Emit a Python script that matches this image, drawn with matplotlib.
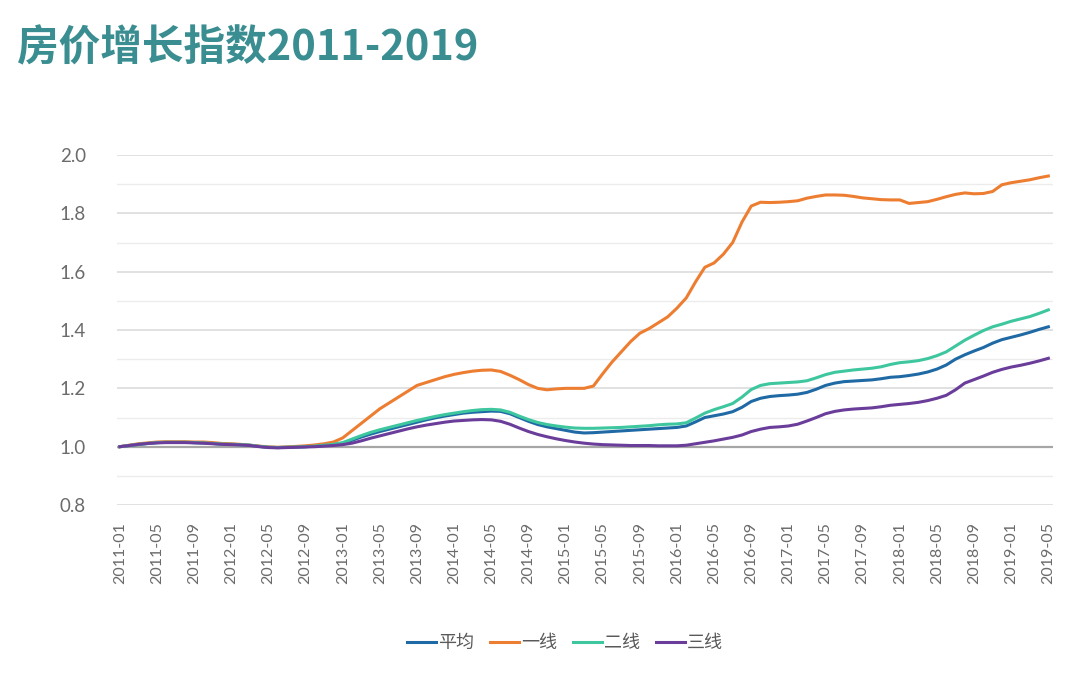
import matplotlib
matplotlib.use("Agg")
import matplotlib.pyplot as plt
from matplotlib.ticker import MultipleLocator

plt.rcParams['font.family'] = ['Noto Sans CJK SC', 'DejaVu Sans']

# ---- data (monthly, 2011-01 .. 2019-05) ----
months = [f"{y}-{m:02d}" for y in range(2011, 2020) for m in range(1, 13)][:101]

avg = [
    1.000, 1.004, 1.008, 1.011, 1.014, 1.015, 1.015, 1.015, 1.014, 1.013, 1.011, 1.009,
    1.008, 1.007, 1.005, 1.001, 0.998, 0.997, 0.998, 0.999, 1.000, 1.002, 1.004, 1.007,
    1.012, 1.022, 1.033, 1.043, 1.052, 1.060, 1.068, 1.076, 1.084, 1.092, 1.099, 1.105,
    1.110, 1.115, 1.118, 1.120, 1.122, 1.121, 1.113, 1.100, 1.087, 1.076, 1.068, 1.062,
    1.056, 1.050, 1.047, 1.048, 1.050, 1.052, 1.054, 1.056, 1.058, 1.060, 1.062, 1.064,
    1.066, 1.071, 1.085, 1.100, 1.106, 1.112, 1.120, 1.135, 1.155, 1.166, 1.172, 1.175,
    1.177, 1.180, 1.186, 1.197, 1.210, 1.218, 1.223, 1.225, 1.227, 1.229, 1.233, 1.238,
    1.240, 1.244, 1.249, 1.256, 1.266, 1.280, 1.300, 1.315, 1.328, 1.340, 1.355, 1.367,
    1.375, 1.383, 1.392, 1.402, 1.411,
]

tier1 = [
    1.000, 1.005, 1.010, 1.013, 1.016, 1.017, 1.017, 1.017, 1.016, 1.016, 1.014, 1.011,
    1.010, 1.008, 1.005, 1.002, 0.999, 0.998, 0.999, 1.001, 1.003, 1.006, 1.010, 1.016,
    1.030, 1.055, 1.080, 1.105, 1.130, 1.150, 1.170, 1.190, 1.210, 1.220, 1.230, 1.240,
    1.248, 1.254, 1.259, 1.262, 1.263, 1.258, 1.245, 1.230, 1.213, 1.200, 1.195, 1.198,
    1.200, 1.200, 1.200, 1.208, 1.250, 1.290, 1.325, 1.360, 1.389, 1.405, 1.425, 1.445,
    1.475, 1.510, 1.565, 1.615, 1.630, 1.660, 1.700, 1.770, 1.825, 1.838, 1.837, 1.838,
    1.840, 1.843, 1.852, 1.858, 1.863, 1.863, 1.862, 1.858, 1.853, 1.850, 1.847, 1.846,
    1.846, 1.834, 1.837, 1.840, 1.848, 1.857, 1.865, 1.870, 1.867, 1.868, 1.875, 1.898,
    1.905, 1.910, 1.915, 1.922, 1.928,
]

tier2 = [
    1.000, 1.004, 1.008, 1.011, 1.014, 1.015, 1.015, 1.015, 1.014, 1.013, 1.011, 1.009,
    1.008, 1.007, 1.005, 1.001, 0.998, 0.997, 0.998, 0.999, 1.000, 1.002, 1.005, 1.008,
    1.014, 1.026, 1.038, 1.049, 1.058, 1.066, 1.074, 1.082, 1.090, 1.097, 1.104, 1.110,
    1.115, 1.120, 1.124, 1.127, 1.128, 1.126, 1.118, 1.105, 1.093, 1.083, 1.076, 1.071,
    1.067, 1.064, 1.063, 1.063, 1.064, 1.065, 1.066, 1.068, 1.070, 1.072, 1.075, 1.077,
    1.078, 1.082, 1.098, 1.115, 1.127, 1.137, 1.148, 1.170, 1.196, 1.210, 1.216, 1.218,
    1.220, 1.222, 1.226, 1.236, 1.247, 1.255, 1.259, 1.263, 1.266, 1.269, 1.274, 1.282,
    1.288, 1.291, 1.295, 1.302, 1.312, 1.325, 1.345, 1.365, 1.382, 1.398, 1.411, 1.420,
    1.430, 1.438, 1.446, 1.457, 1.469,
]

tier3 = [
    1.000, 1.004, 1.008, 1.011, 1.013, 1.014, 1.014, 1.014, 1.013, 1.012, 1.010, 1.008,
    1.007, 1.006, 1.004, 1.000, 0.997, 0.996, 0.997, 0.998, 0.999, 1.000, 1.002, 1.004,
    1.007, 1.012, 1.020, 1.029, 1.037, 1.045, 1.053, 1.061, 1.068, 1.074, 1.079, 1.084,
    1.088, 1.090, 1.092, 1.093, 1.092, 1.087, 1.077, 1.064, 1.052, 1.042, 1.034, 1.027,
    1.021, 1.016, 1.012, 1.009, 1.007, 1.006, 1.005, 1.004, 1.004, 1.004, 1.003, 1.003,
    1.003, 1.005, 1.010, 1.015, 1.020, 1.026, 1.032, 1.040, 1.052, 1.060, 1.066, 1.068,
    1.071, 1.077, 1.088, 1.100, 1.113, 1.121, 1.126, 1.129, 1.131, 1.133, 1.137, 1.142,
    1.145, 1.148, 1.152, 1.158, 1.166, 1.176, 1.195, 1.218, 1.230, 1.242, 1.255, 1.265,
    1.273, 1.279, 1.286, 1.294, 1.303,
]

series_names = ["平均", "一线", "二线", "三线"]
series_colors = ["#1f6aa5", "#ed7d31", "#3ec79f", "#6a3d9a"]

# ---- plot ----
fig = plt.figure(figsize=(10.8, 6.96), dpi=100)
ax = fig.add_axes([0.108, 0.2744, 0.867, 0.5029])

x = list(range(len(months)))
ax.axhline(1.0, color="#a6a6a6", lw=1.6, zorder=1)
for vals, name, c in zip([avg, tier1, tier2, tier3], series_names, series_colors):
    ax.plot(x, vals, color=c, lw=2.2, label=name, zorder=3)

ax.set_xlim(-0.35, 100.5)
ax.set_ylim(0.8, 2.0)
ax.yaxis.set_major_locator(MultipleLocator(0.2))
ax.yaxis.set_minor_locator(MultipleLocator(0.1))
ax.grid(True, axis="y", which="major", color="#d9d9d9", lw=1.1)
ax.grid(True, axis="y", which="minor", color="#ececec", lw=1.0)
ax.set_axisbelow(True)
for s in ax.spines.values():
    s.set_visible(False)

ax.set_xticks(x[::4])
ax.set_xticklabels(months[::4], rotation=90, fontsize=11.5, color="#6b6b6b", family="Lato")
ax.set_yticks([0.8, 1.0, 1.2, 1.4, 1.6, 1.8, 2.0])
ax.set_yticklabels(["0.8", "1.0", "1.2", "1.4", "1.6", "1.8", "2.0"],
                   fontsize=13.5, color="#6b6b6b", family="Lato")
ax.tick_params(axis="both", which="both", length=0)
ax.tick_params(axis="y", pad=22)
ax.tick_params(axis="x", pad=12)

fig.text(0.016, 0.93, "房价增长指数2011-2019", fontsize=30, fontweight="bold",
         color="#3a8d90", va="center", ha="left")

leg = fig.legend(loc="center", bbox_to_anchor=(0.523, 0.076), ncol=4, frameon=False,
                 fontsize=13, handlelength=1.6, handletextpad=0.1, columnspacing=0.9)
for t in leg.get_texts():
    t.set_color("#595959")

fig.savefig("out.png", dpi=100)
